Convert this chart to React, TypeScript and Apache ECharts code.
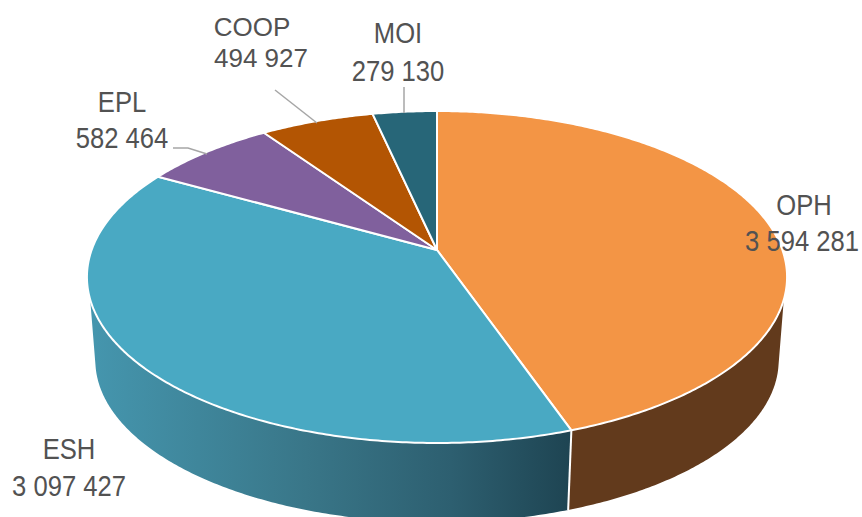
import React, { useEffect, useRef } from "react";
import * as echarts from "echarts";

const categories = ["OPH", "ESH", "EPL", "COOP", "MOI"];
const values = [3594281, 3097427, 582464, 494927, 279130];
const topColors = ["#f39545", "#49a9c3", "#80609d", "#b35503", "#276678"];
const sideColors = ["#623a1c", "esh", "#4a3859", "#693202", "#173c47"];
const labelAt = [
  { x: 802, a: 205, b: 241, name: 804, fs: 25.6, sy: 1.17 },
  { x: 69, a: 449, b: 486, name: 69, fs: 25.6, sy: 1.17 },
  { x: 122, a: 102, b: 138, name: 122, fs: 25.6, sy: 1.17 },
  { x: 261, a: 27, b: 58, name: 252, fs: 26, sy: 1.02 },
  { x: 398, a: 33, b: 71, name: 398, fs: 25.6, sy: 1.17 },
];
const leaders = [
  [[404, 87], [404, 113]],
  [[275, 90], [317, 123]],
  [[173, 148], [188, 148], [207, 154]],
];

const cx = 437;
const cy = 250;
const R = 345.4;
const S = 161.6;
const K = -0.1627;
const bScale = 0.976;
const bCy = 334;
const deg = Math.PI / 180;
const visFrom = 107 * deg;
const visTo = 253 * deg;
const bottomFrom = 101.7 * deg;
const bottomTo = 258.3 * deg;
const total = values.reduce((a, b) => a + b, 0);

const top = (t: number) => {
  const v = -Math.cos(t);
  const w = 1 + K * v;
  return [cx + (R * Math.sin(t)) / w, cy + (S * v) / w];
};
const bottom = (t: number) => {
  const v = -Math.cos(t);
  const w = 1 + K * v;
  return [cx + (R * bScale * Math.sin(t)) / w, bCy + (S * bScale * v) / w];
};
const arc = (f: (t: number) => number[], a: number, b: number) => {
  const n = Math.max(2, Math.ceil(Math.abs(b - a) / 0.01));
  const pts: number[][] = [];
  for (let i = 0; i <= n; i++) pts.push(f(a + ((b - a) * i) / n));
  return pts;
};
const fmt = (n: number) => String(n).replace(/\B(?=(\d{3})+(?!\d))/g, " ");

function renderItem(params: any, api: any) {
  const i = params.dataIndex;
  let before = 0;
  for (let k = 0; k < i; k++) before += values[k];
  const a0 = (before / total) * Math.PI * 2;
  const a1 = ((before + api.value(0)) / total) * Math.PI * 2;
  const children: any[] = [];
  const from = Math.max(a0, visFrom);
  const to = Math.min(a1, visTo);
  if (to > from) {
    const fill =
      sideColors[i] === "esh"
        ? new echarts.graphic.LinearGradient(0, 0, 1, 0, [
            { offset: 0, color: "#4596ae" },
            { offset: 0.45, color: "#397688" },
            { offset: 0.75, color: "#2d5f70" },
            { offset: 1, color: "#1e4452" },
          ])
        : sideColors[i];
    const bFrom = a0 <= visFrom ? bottomFrom : from;
    const bTo = a1 >= visTo ? bottomTo : to;
    children.push({
      type: "polygon",
      shape: { points: [...arc(top, from, to), ...arc(bottom, bTo, bFrom)] },
      style: { fill, stroke: null },
    });
    if (a0 > visFrom) {
      children.push({
        type: "line",
        shape: { x1: top(a0)[0], y1: top(a0)[1], x2: bottom(a0)[0], y2: bottom(a0)[1] },
        style: { stroke: "#ffffff", lineWidth: 2 },
      });
    }
  }
  children.push({
    type: "polygon",
    shape: { points: [[cx, cy], ...arc(top, a0, a1)] },
    style: { fill: topColors[i], stroke: "#ffffff", lineWidth: 2, lineJoin: "round" },
  });
  return { type: "group", children };
}

export default function App() {
  const ref = useRef<HTMLDivElement>(null);
  useEffect(() => {
    const chart = echarts.init(ref.current!, undefined, { renderer: "svg" });
    const texts: any[] = [];
    categories.forEach((c, i) => {
      const l = labelAt[i];
      const mk = (s: string, x: number, y: number) => ({
        type: "text",
        x,
        y,
        scaleX: 1,
        scaleY: l.sy,
        z: 20,
        style: {
          text: s,
          fill: "#525252",
          font: `${l.fs}px "Liberation Sans", Arial, sans-serif`,
          textAlign: "center",
          textVerticalAlign: "middle",
        },
      });
      texts.push(mk(c, l.name, l.a), mk(fmt(values[i]), l.x, l.b));
    });
    const lines = leaders.map((pts) => ({
      type: "polyline",
      z: 20,
      shape: { points: pts },
      style: { stroke: "#a6a6a6", lineWidth: 1.5, fill: null },
    }));
    chart.setOption({
      animation: false,
      backgroundColor: "#ffffff",
      graphic: [...lines, ...texts],
      series: [
        {
          type: "custom",
          coordinateSystem: "none",
          silent: true,
          renderItem,
          data: values.map((v) => [v]),
        },
      ],
    });
    return () => chart.dispose();
  }, []);
  return <div ref={ref} style={{ position: "absolute", left: 0, top: 0, width: 862, height: 517 }} />;
}
